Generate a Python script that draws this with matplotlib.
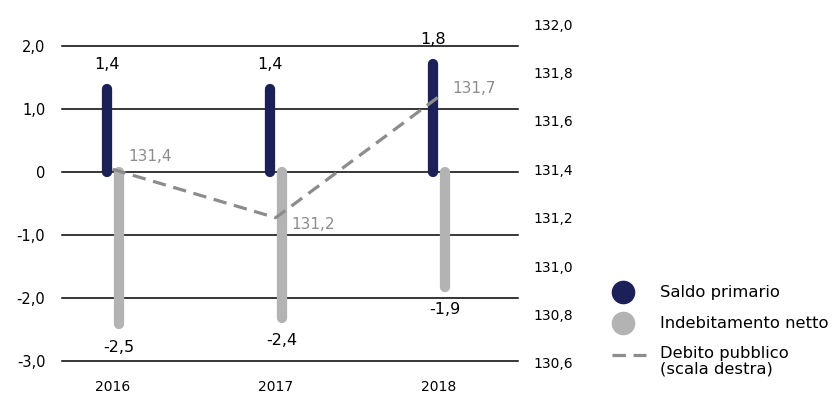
import matplotlib.pyplot as plt
from matplotlib.lines import Line2D
import numpy as np

plt.rcParams['font.family'] = ['DejaVu Sans']

# data
anni = ['2016', '2017', '2018']
saldo_primario = [1.4, 1.4, 1.8]
indebitamento_netto = [-2.5, -2.4, -1.9]
debito_pubblico = [131.4, 131.2, 131.7]

navy = '#1c2058'
grigio = '#b3b3b3'
grigio_linea = '#8c8c8c'


def fmt(v, nd=1):
    return f'{v:.{nd}f}'.replace('.', ',')


W, H = 836, 396
fig = plt.figure(figsize=(W / 100, H / 100), dpi=100)
ax = fig.add_axes([62 / W, 35 / H, 456 / W, 315 / H])

x = np.arange(len(anni))
off = 0.037
cap = 0.08  # round cap radius in data units

for xi, v in zip(x, saldo_primario):
    ax.plot([xi - off, xi - off], [0, v - cap], color=navy, lw=7.4,
            solid_capstyle='round', zorder=3)
    ax.text(xi - off, v + 0.3, fmt(v), ha='center', va='center', fontsize=11.5)

for xi, v in zip(x, indebitamento_netto):
    ax.plot([xi + off, xi + off], [0, v + cap], color=grigio, lw=7.4,
            solid_capstyle='round', zorder=3)
    ax.text(xi + off, v - 0.28, fmt(v), ha='center', va='center', fontsize=11.5)

ax.set_xlim(-0.31, 2.485)
ax.set_ylim(-3, 2)
ax.set_yticks([-3, -2, -1, 0, 1, 2])
ax.set_yticklabels(['-3,0', '-2,0', '-1,0', '0', '1,0', '2,0'])
ax.yaxis.grid(True, color='black', lw=1.1, zorder=1)
for gl in ax.get_ygridlines():
    gl.set_clip_on(False)
ax.set_axisbelow(True)
ax.set_xticks(x)
ax.set_xticklabels(anni)
ax.tick_params(axis='y', length=0, pad=12, labelsize=10.5)
ax.tick_params(axis='x', length=0, pad=14, labelsize=10)
for s in ax.spines.values():
    s.set_visible(False)

# right scale: debito pubblico
ax2 = fig.add_axes([62 / W, 33 / H, 456 / W, 339 / H])
ax2.patch.set_visible(False)
ax2.set_xlim(ax.get_xlim())
ax2.set_ylim(130.6, 132.0)
ln, = ax2.plot(x, debito_pubblico, color=grigio_linea, lw=2.3, zorder=4)
ln.set_dashes((4.2, 2.4))
offs = [(27, 9), (27, -5), (25, 6)]
for xi, v, o in zip(x, debito_pubblico, offs):
    ax2.annotate(fmt(v), (xi, v), xytext=o, textcoords='offset points',
                 ha='center', va='center', fontsize=11, color=grigio_linea)
ax2.set_yticks(np.arange(130.6, 132.01, 0.2))
ax2.set_yticklabels([fmt(t) for t in np.arange(130.6, 132.01, 0.2)])
ax2.yaxis.tick_right()
ax2.tick_params(axis='y', length=0, pad=11, labelsize=10)
ax2.set_xticks([])
for s in ax2.spines.values():
    s.set_visible(False)

# legend
fig.add_artist(Line2D([623 / W], [1 - 292 / H], marker='o', ls='none',
                      color=navy, markersize=16))
fig.add_artist(Line2D([623 / W], [1 - 323 / H], marker='o', ls='none',
                      color=grigio, markersize=16))
fig.add_artist(Line2D([612 / W, 646 / W], [1 - 355 / H, 1 - 355 / H],
                      color=grigio_linea, lw=2.3, dashes=(4.2, 2.4)))
fig.text(660 / W, 1 - 292 / H, 'Saldo primario', va='center', fontsize=11.8)
fig.text(660 / W, 1 - 323 / H, 'Indebitamento netto', va='center', fontsize=11.8)
fig.text(660 / W, 1 - 346 / H, 'Debito pubblico\n(scala destra)', va='top',
         fontsize=11.8, linespacing=1.0)

fig.savefig('out.png', dpi=100)
